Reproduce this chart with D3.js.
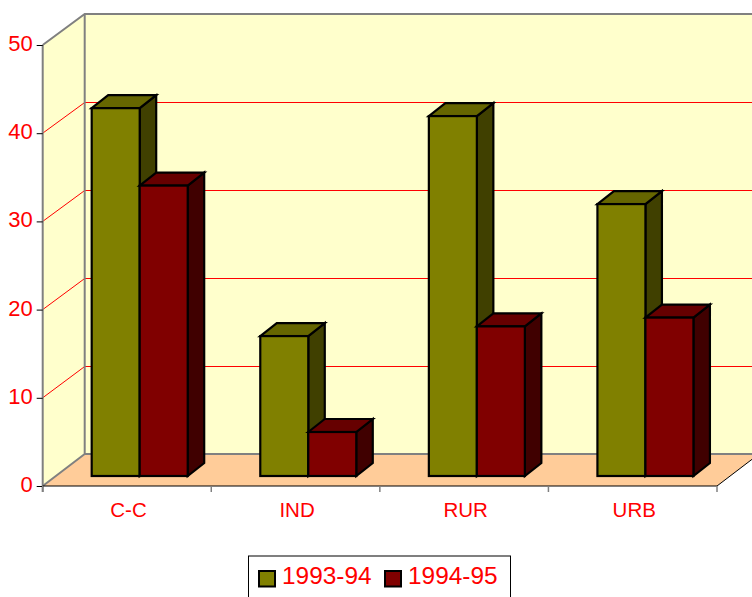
<!DOCTYPE html>
<html><head><meta charset="utf-8">
<script src="https://cdn.jsdelivr.net/npm/d3@7"></script>
<style>
html,body{margin:0;padding:0;background:#fff;overflow:hidden}
svg{display:block}
text{font-family:"Liberation Sans",Arial,sans-serif;fill:#ff0000}
</style></head><body>
<script>
const categories = ["C-C", "IND", "RUR", "URB"];
const seriesNames = ["1993-94", "1994-95"];
const series1993 = [41.8, 15.9, 40.9, 30.9];
const series1994 = [33, 5, 17, 18];
const yTicks = [0, 10, 20, 30, 40, 50];
const seriesColors = [
  {front:"#808000", top:"#666600", side:"#404000"},
  {front:"#800000", top:"#660000", side:"#400000"}
];

const W = 752, H = 597;
const svg = d3.select("body").append("svg").attr("width", W).attr("height", H);

// projection: front plane axes + back wall offset
const wallDX = 42, wallDY = -32;
const x = d3.scaleBand().domain(categories).range([42.7, 717]);
const y = d3.scaleLinear().domain([0, 50]).range([486, 45]);
const yBack = d3.scaleLinear().domain([0, 50]).range([454, 14]);
const yBar = d3.scaleLinear().domain([0, 50]).range([476, 36]);
const left = x.range()[0], right = x.range()[1];
const barW = 48, barInset = 49, depthX = 16.5, depthY = -13;
const poly = pts => pts.map(p => p.join(",")).join(" ");

// back wall and side wall
svg.append("polygon").attr("fill", "#ffffcc")
  .attr("points", poly([[left+wallDX, yBack(50)], [right+wallDX, yBack(50)], [right+wallDX, yBack(0)], [left+wallDX, yBack(0)]]));
svg.append("polygon").attr("fill", "#ffffcc")
  .attr("points", poly([[left, y(50)], [left+wallDX, yBack(50)], [left+wallDX, yBack(0)], [left, y(0)]]));
// floor
svg.append("polygon").attr("fill", "#ffcc99")
  .attr("points", poly([[left, y(0)], [right, y(0)], [right+wallDX, yBack(0)], [left+wallDX, yBack(0)]]));

// gridlines
const gridVals = yTicks.filter(t => t > 0 && t < 50);
svg.append("g").selectAll("path").data(gridVals).join("path")
  .attr("fill", "none").attr("stroke", "#ff0000").attr("stroke-width", 1)
  .attr("d", t => `M${left},${y(t)}L${left+wallDX},${yBack(t)+.5}L${right+wallDX},${yBack(t)+.5}`);

// wall frame
const grey = "#808080";
svg.append("path").attr("fill", "none").attr("stroke", grey).attr("stroke-width", 2)
  .attr("d", `M${left},${y(50)}L${left+wallDX},${yBack(50)}L${right+wallDX},${yBack(50)}M${left+wallDX},${yBack(50)}L${left+wallDX},${yBack(0)}L${right+wallDX},${yBack(0)}M${left},${y(0)}L${left+wallDX},${yBack(0)}`);

// bars
const values = [series1993, series1994];
categories.forEach((c, i) => {
  values.forEach((vals, s) => {
    const g = svg.append("g").attr("stroke", "#000").attr("stroke-width", 2.2).attr("stroke-linejoin", "miter");
    const x0 = x(c) + barInset + s * barW, x1 = x0 + barW;
    const top = yBar(vals[i]), base = yBar(0);
    const col = seriesColors[s];
    g.append("polygon").attr("fill", col.side)
      .attr("points", poly([[x1, top], [x1+depthX, top+depthY], [x1+depthX, base+depthY], [x1, base]]));
    g.append("polygon").attr("fill", col.top)
      .attr("points", poly([[x0, top], [x0+depthX, top+depthY], [x1+depthX, top+depthY], [x1, top]]));
    g.append("rect").attr("fill", col.front)
      .attr("x", x0).attr("y", top).attr("width", barW).attr("height", base - top);
  });
});

// right floor edge
svg.append("path").attr("fill", "none").attr("stroke", "#000").attr("stroke-width", 1)
  .attr("d", `M${right},${y(0)}L${right+wallDX},${yBack(0)}`);

// Y axis
const yAxis = svg.append("g").attr("transform", `translate(${left},0)`)
  .call(d3.axisLeft(y).tickValues(yTicks).tickSize(6).tickPadding(4));
yAxis.select(".domain").attr("stroke", grey).attr("stroke-width", 2).attr("d", `M0,${y(50)}V${y(0)+6}`);
yAxis.selectAll(".tick line").attr("stroke", "#000");
yAxis.selectAll("text").attr("font-size", 22).attr("dy", "0.25em")
  .style("font-family", '"Liberation Sans",Arial,sans-serif').attr("fill", "#ff0000");

// X axis
const xAxis = svg.append("g").attr("transform", `translate(0,${y(0)})`)
  .call(d3.axisBottom(x).tickSize(0).tickPadding(16));
xAxis.select(".domain").attr("stroke", "#000").attr("stroke-width", 1).attr("d", `M${left},0H${right}`);
xAxis.selectAll("text").attr("font-size", 20.5).attr("dy", "0.71em").attr("dx", 1.5)
  .style("font-family", '"Liberation Sans",Arial,sans-serif').attr("fill", "#ff0000");
svg.append("g").selectAll("line").data(categories.concat(["end"])).join("line")
  .attr("x1", (d, i) => left + i * x.step()).attr("x2", (d, i) => left + i * x.step())
  .attr("y1", y(0)).attr("y2", y(0) + 6).attr("stroke", grey).attr("stroke-width", 1.5);

// Legend
const legend = svg.append("g");
legend.append("rect").attr("x", 248.5).attr("y", 556).attr("width", 262).attr("height", 60)
  .attr("fill", "#fff").attr("stroke", "#000").attr("stroke-width", 1);
const legendSwatchX = [259, 385], legendTextX = [282, 408];
seriesNames.forEach((n, i) => {
  legend.append("rect").attr("x", legendSwatchX[i]).attr("y", 571).attr("width", 16).attr("height", 15.5)
    .attr("fill", seriesColors[i].front).attr("stroke", "#000").attr("stroke-width", 2);
  legend.append("text").attr("x", legendTextX[i]).attr("y", 584).attr("font-size", 24.4).text(n);
});
</script>
</body></html>
